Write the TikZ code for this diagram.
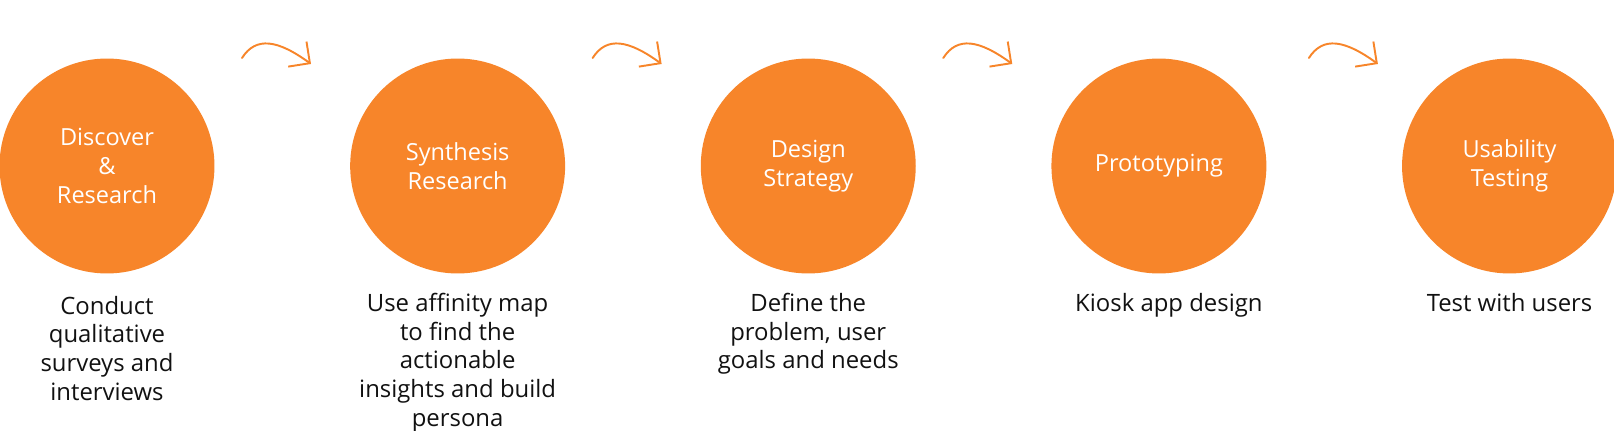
\documentclass[tikz,border=0pt]{standalone}
\usepackage{fontspec}
\setmainfont{Open Sans}
\usepackage{tikz}
\usetikzlibrary{arrows.meta, positioning, calc}
\definecolor{orangevif}{HTML}{F7852A}
\definecolor{encre}{HTML}{111111}
\tikzset{
  etape/.style={circle, fill=orangevif, text=white, minimum size=4.3cm,
    inner sep=0pt, align=center, font=\fontsize{13.4}{16.4}\selectfont},
  detail/.style={text=encre, align=center, inner sep=0pt,
    font=\fontsize{13.6}{16.3}\selectfont},
  fleche/.style={-{Straight Barb[length=3.1mm, width=6.2mm]}, line width=1.1pt,
    draw=orangevif, line cap=round}
}

\begin{document}
\begin{tikzpicture}[x=0.02cm, y=0.02cm, node distance=3.8mm and 2.7cm]
    \useasboundingbox (0,0) rectangle (1614,430);

    % les cinq etapes
    \node[etape] (c1) at (107,264) {Discover\\ \&\\ Research};
    \node[etape, right=of c1] (c2) {Synthesis\\ Research};
    \node[etape, right=of c2] (c3) {Design\\ Strategy};
    \node[etape, right=of c3] (c4) {Prototyping};
    \node[etape, right=of c4] (c5) {Usability\\ Testing};

    \node[detail, below=4.4mm of c1] (d1) {Conduct\\ qualitative\\ surveys and\\ interviews};
    \node[detail, below=of c2] (d2) {Use affinity map\\ to find the\\ actionable\\ insights and build\\ persona};
    \node[detail, below=of c3] (d3) {Define the\\ problem, user\\ goals and needs};
    \node[detail, below=of c4, xshift=2mm] (d4) {Kiosk app design};
    \node[detail, below=of c5] (d5) {Test with users};

    % fleches entre les etapes
    \coordinate (a1) at ($(c1)+(135,108)$);
    \coordinate (b1) at ($(c1)+(204,102)$);
    \coordinate (a2) at ($(c2)+(135,108)$);
    \coordinate (b2) at ($(c2)+(204,102)$);
    \coordinate (a3) at ($(c3)+(135,108)$);
    \coordinate (b3) at ($(c3)+(204,102)$);
    \coordinate (a4) at ($(c4)+(150,108)$);
    \coordinate (b4) at ($(c4)+(219,102)$);

    \draw[fleche] (a1) .. controls +(14,22) and +(-33,24) .. (b1);
    \draw[fleche] (a2) .. controls +(14,22) and +(-33,24) .. (b2);
    \draw[fleche] (a3) .. controls +(14,22) and +(-33,24) .. (b3);
    \draw[fleche] (a4) .. controls +(14,22) and +(-33,24) .. (b4);
  \end{tikzpicture}
\end{document}
